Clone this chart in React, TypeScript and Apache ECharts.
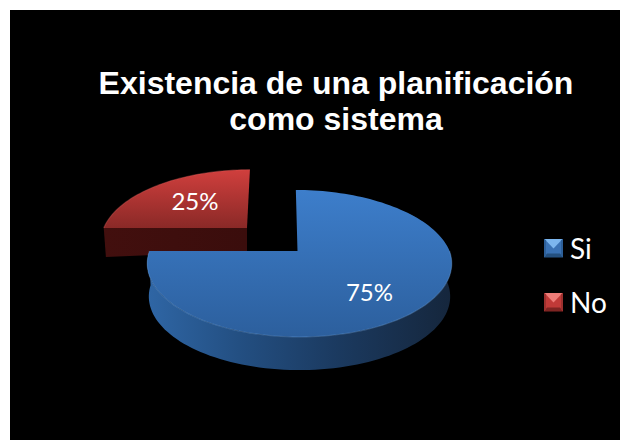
import React, { useEffect, useRef } from "react";
import * as echarts from "echarts";

const titleLines = ["Existencia de una planificación", "como sistema"];
const categories = ["Si", "No"];
const shares = [75, 25];

type Slice = {
  cx: number; cy: number; apexDx: number; scale: number; skew: number; depth: number;
  labelX: number; labelY: number; wallFrom: number; wallTo: number;
  top: string[]; side: [number, string][]; rim: string; wallDark: boolean;
};

const R = 150, KY = 71.4, P = 0.17, DEG = Math.PI / 180;
const slices: Slice[] = [
  { cx: 289.5, cy: 241, apexDx: -2, scale: 1, skew: 0.06, depth: 33, labelX: 70, labelY: 40, wallFrom: 55, wallTo: 270,
    top: ["#3d7ecb", "#2c5f9d"],
    side: [[0, "#2f66a5"], [0.3, "#234f82"], [0.62, "#1b3a60"], [1, "#15263c"]], rim: "#6fa3de", wallDark: false },
  { cx: 237, cy: 218, apexDx: 0, scale: 0.955, skew: -0.05, depth: 29, labelX: -52, labelY: -28, wallFrom: 270, wallTo: 270,
    top: ["#d03f3d", "#8a2927"],
    side: [[0, "#420f0e"], [1, "#3a0d0c"]], rim: "#e0625f", wallDark: true },
];

const legendIcon = (light: string, mid: string, dark: string, edge: string) =>
  "image://data:image/svg+xml;utf8," +
  encodeURIComponent(
    `<svg xmlns="http://www.w3.org/2000/svg" width="19" height="19"><rect width="19" height="19" fill="${mid}"/>` +
      `<polygon points="0,0 19,0 9.5,10" fill="${light}"/>` +
      `<polygon points="0,19 19,19 16,15 3,15" fill="${dark}"/>` +
      `<polygon points="0,0 2,2 2,17 0,19" fill="${edge}"/><polygon points="19,0 17,2 17,17 19,19" fill="${edge}"/></svg>`
  );
const legendIcons = [
  legendIcon("#7cb6ee", "#3a72b4", "#24507f", "#2d5f98"),
  legendIcon("#ee7c78", "#c03a38", "#7e2422", "#9c302e"),
];

function project(s: Slice, thetaDeg: number, f = 1) {
  const t = thetaDeg * DEG;
  const u = Math.sin(t) * f, v = -Math.cos(t) * f;
  const w = 1 - P * v;
  const dx = (R * s.scale * u) / w;
  const dy = (KY * s.scale * v) / w;
  return [dx + s.skew * Math.min(dy, 0), dy];
}

function renderSlice(index: number) {
  return (_params: any, api: any) => {
    const s = slices[index];
    const total = shares.reduce((a, b) => a + b, 0);
    const before = shares.slice(0, index).reduce((a, b) => a + b, 0);
    const start = (before / total) * 360;
    const end = start + (api.value(0) / total) * 360;
    const topPts: number[][] = [[s.cx + s.apexDx, s.cy]];
    for (let a = start; a <= end + 0.01; a += 2) {
      const [dx, dy] = project(s, a);
      topPts.push([s.cx + dx, s.cy + dy]);
    }
    const rimPts: number[][] = [];
    for (let a = Math.max(start, 90); a <= end + 0.01; a += 2) {
      const [dx, dy] = project(s, a);
      rimPts.push([s.cx + dx, s.cy + dy]);
    }
    const children: any[] = [];
    // Outer wall (or, for the detached slice, the front cut wall)
    const wall: number[][] = [];
    if (s.wallDark) {
      const [lx, ly] = project(s, start);
      wall.push([s.cx + lx, s.cy + ly], [s.cx, s.cy], [s.cx, s.cy + s.depth - 6], [s.cx + lx * 0.985, s.cy + ly + s.depth]);
    } else {
      const upper: number[][] = [];
      const lower: number[][] = [];
      for (let a = s.wallFrom; a <= s.wallTo; a += 2) {
        const [dx, dy] = project(s, a);
        upper.push([s.cx + dx, s.cy + dy]);
        lower.push([s.cx + dx * 0.99, s.cy + dy + s.depth]);
      }
      wall.push(...upper, ...lower.reverse());
    }
    children.push({
      type: "polygon",
      shape: { points: wall },
      style: { fill: new echarts.graphic.LinearGradient(0, 0, 1, 0,
        s.side.map(([offset, color]) => ({ offset, color }))) },
    });
    children.push({
      type: "polygon",
      shape: { points: topPts },
      style: { fill: new echarts.graphic.LinearGradient(0, 0, 0, 1, [
        { offset: 0, color: s.top[0] }, { offset: 1, color: s.top[1] }]) },
    });
    children.push({
      type: "polyline",
      shape: { points: rimPts },
      style: { fill: "none", stroke: s.rim, lineWidth: 1.2, opacity: 0.35 },
    });
    children.push({
      type: "text",
      style: {
        x: s.cx + s.labelX, y: s.cy + s.labelY,
        text: `${api.value(0)}%`, fill: "#ffffff",
        font: '24px Lato, "Open Sans", sans-serif', align: "center", verticalAlign: "middle",
      },
    });
    return { type: "group", children };
  };
}

export default function App() {
  const ref = useRef<HTMLDivElement>(null);
  useEffect(() => {
    const chart = echarts.init(ref.current!, undefined, { renderer: "svg" });
    chart.setOption({
      animation: false,
      backgroundColor: "#000000",
      title: {
        text: titleLines.join("\n"),
        left: 321,
        top: 50,
        textAlign: "center",
        textStyle: { color: "#ffffff", fontFamily: '"Liberation Sans", Arial, sans-serif', fontWeight: "bold", fontSize: 32, lineHeight: 36 },
      },
      legend: {
        orient: "vertical",
        left: 529,
        top: 218,
        itemWidth: 19,
        itemHeight: 19,
        itemGap: 24,
        data: categories.map((name, i) => ({ name, icon: legendIcons[i] })),
        textStyle: { color: "#ffffff", fontFamily: 'Lato, "Open Sans", sans-serif', fontSize: 28, lineHeight: 30, padding: [0, 0, 0, 2] },
      },
      series: categories.map((name, i) => ({
        type: "custom",
        name,
        coordinateSystem: "none",
        z: i === 0 ? 3 : 2,
        itemStyle: { color: slices[i].top[0] },
        data: [[shares[i]]],
        renderItem: renderSlice(i),
      })),
    });
    return () => chart.dispose();
  }, []);
  return <div ref={ref} style={{ position: "fixed", left: 10, top: 10, width: 610, height: 430 }} />;
}
